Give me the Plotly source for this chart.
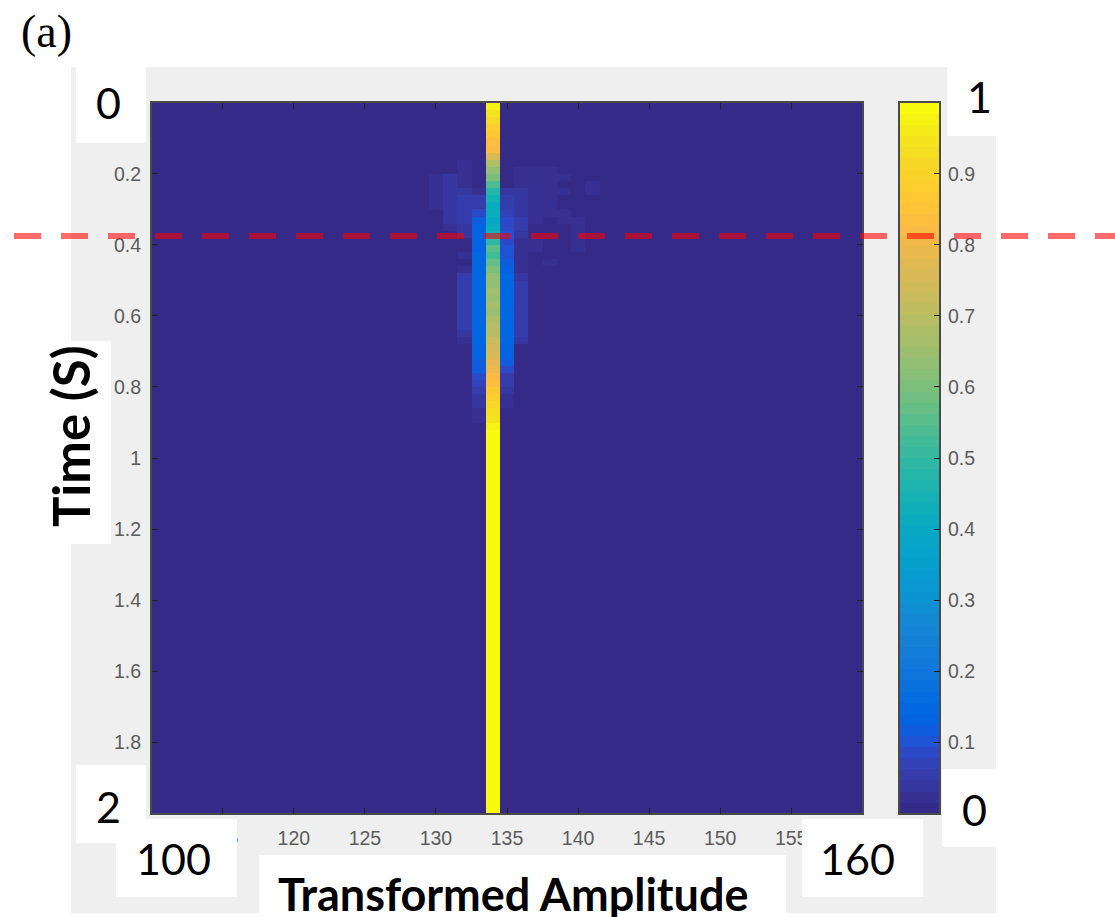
import plotly.graph_objects as go
from plotly.subplots import make_subplots

W, H = 1115, 917

amplitude = list(range(110, 161))
time_rows = [round(0.01 + 0.02 * i, 2) for i in range(100)]

col_130 = [0]*10 + [.02, .02, .016, .016, .016]
col_131 = [0]*10 + [.035, .035, .035, .04, .035, .035, .035, .025]
col_132 = [0]*8 + [.025, .025, .02, .03, .045, .055, .055, .055, .055, .045, .035, 0, 0, .016, 0, .016,
                   .05, .05, .05, .05, .05, .05, .05, .05, .045, .03]
col_133 = [0]*12 + [.03, .05, .06, .08, .12, .13, .13, .14, .14, .15, .15, .15, .15, .15, .15, .15,
                    .15, .15, .15, .15, .15, .15, .14, .13, .12, .11, .09, .07, .05, .04, .04, .03, .03]
col_134 = [.98, .95, .92, .89, .86, .84, .82, .76, .68, .64, .60, .54, .48, .44, .42, .41, .40, .42,
           .45, .49, .55, .52, .57, .60, .64, .64, .66, .65, .67, .65, .68, .69, .70, .72, .74, .75,
           .77, .79, .82, .84, .87, .89, .91, .93, .95, .97]
col_135 = [0]*12 + [.04, .05, .06, .07, .08, .09, .10, .09, .10, .10, .12, .13, .15, .15, .15, .15,
                    .15, .15, .15, .15, .15, .15, .14, .13, .11, .09, .06, .05, .04, .03, .02]
col_136 = [0]*9 + [.02, .02, .025, .035, .035, .04, .045, .05, .05, .045, .025, .025, .025, .025, .02,
                   .045, .05, .05, .05, .05, .05, .05, .05, .05, .045]
col_137 = [0]*9 + [.016, .025, .025, .03, .03, .025, .02, .016, 0, 0, .016, .016]
col_138 = [0]*9 + [.016, .016, .025, .025, .025, .025, .016, 0, 0, 0, 0, 0, 0, .016]
col_139 = [0]*10 + [.016, 0, .016, 0, 0, .02, .016]
col_140 = [0]*16 + [.02, .025, .02, .016, .016]
col_141 = [0]*11 + [.02, .025]
activity = {130: col_130, 131: col_131, 132: col_132, 133: col_133, 134: col_134, 135: col_135,
            136: col_136, 137: col_137, 138: col_138, 139: col_139, 140: col_140, 141: col_141}

x_ticks = [115, 120, 125, 130, 135, 140, 145, 150, 155]
y_ticks = [0.2, 0.4, 0.6, 0.8, 1, 1.2, 1.4, 1.6, 1.8]
bar_ticks = [0.1, 0.2, 0.3, 0.4, 0.5, 0.6, 0.7, 0.8, 0.9]
threshold_time = 0.375

parula = [
 (.2081,.1663,.5292),(.2116,.1898,.5777),(.2123,.2138,.6270),(.2081,.2386,.6771),(.1959,.2645,.7279),
 (.1707,.2919,.7792),(.1253,.3242,.8303),(.0591,.3598,.8683),(.0117,.3875,.8820),(.0060,.4086,.8828),
 (.0165,.4266,.8786),(.0329,.4430,.8720),(.0498,.4586,.8641),(.0629,.4737,.8554),(.0723,.4887,.8467),
 (.0779,.5040,.8384),(.0793,.5200,.8312),(.0749,.5375,.8263),(.0641,.5570,.8240),(.0488,.5772,.8228),
 (.0343,.5966,.8199),(.0265,.6137,.8135),(.0239,.6287,.8038),(.0231,.6418,.7913),(.0228,.6535,.7768),
 (.0267,.6642,.7607),(.0384,.6743,.7436),(.0590,.6838,.7254),(.0843,.6928,.7062),(.1133,.7015,.6859),
 (.1453,.7098,.6646),(.1801,.7177,.6424),(.2178,.7250,.6193),(.2586,.7317,.5954),(.3022,.7376,.5712),
 (.3482,.7424,.5473),(.3953,.7459,.5244),(.4420,.7481,.5033),(.4871,.7491,.4840),(.5300,.7491,.4661),
 (.5709,.7485,.4494),(.6099,.7473,.4337),(.6473,.7456,.4188),(.6834,.7435,.4044),(.7184,.7411,.3905),
 (.7525,.7384,.3768),(.7858,.7356,.3633),(.8185,.7327,.3498),(.8507,.7299,.3360),(.8824,.7274,.3217),
 (.9139,.7258,.3063),(.9450,.7261,.2886),(.9739,.7314,.2666),(.9938,.7455,.2403),(.9990,.7653,.2164),
 (.9955,.7861,.1967),(.9880,.8066,.1794),(.9789,.8271,.1633),(.9697,.8481,.1475),(.9626,.8705,.1309),
 (.9589,.8949,.1132),(.9598,.9218,.0948),(.9661,.9514,.0755),(.9763,.9831,.0538)]

n = len(parula)
colorscale = []
for i, c in enumerate(parula):
    rgb = "rgb(%d,%d,%d)" % tuple(round(v * 255) for v in c)
    colorscale += [[i / n, rgb], [(i + 1) / n, rgb]]


def cell(col, row):
    if col not in activity:
        return 0
    values = activity[col]
    if row < len(values):
        return values[row]
    return 1 if col == 134 else 0


z = [[cell(a, r) for a in amplitude] for r in range(len(time_rows))]
bar_levels = [(i + 0.5) / n for i in range(n)]

fig = make_subplots(rows=1, cols=2)
fig.add_trace(go.Heatmap(x=amplitude, y=time_rows, z=z, colorscale=colorscale, zmin=0, zmax=1,
                         showscale=False, hoverinfo="skip"), row=1, col=1)
fig.add_trace(go.Heatmap(x=[0], y=bar_levels, z=[[v] for v in bar_levels], colorscale=colorscale,
                         zmin=0, zmax=1, showscale=False, hoverinfo="skip"), row=1, col=2)

TICK_FONT = dict(family="Liberation Sans", size=19.5, color="#5c5c5c")
AX = dict(showgrid=False, zeroline=False, showline=True, linecolor="#4a4a4a", linewidth=1.5, automargin=False,
          ticks="inside", ticklen=6, tickcolor="#222222", tickwidth=1.2, tickfont=TICK_FONT)

fig.update_layout(
    width=W, height=H, margin=dict(l=0, r=0, t=0, b=0), autosize=False,
    paper_bgcolor="white", plot_bgcolor="white", showlegend=False,
    xaxis=dict(domain=[151.75 / W, 862.25 / W], range=[110, 160], tickmode="array", tickvals=x_ticks,
               mirror="allticks", ticklabelstandoff=7, **AX),
    yaxis=dict(domain=[1 - 813.25 / H, 1 - 102.75 / H], range=[2, 0], tickmode="array", tickvals=y_ticks,
               mirror="allticks", ticklabelstandoff=5, **AX),
    xaxis2=dict(domain=[899.75 / W, 939.25 / W], range=[-0.5, 0.5], showticklabels=False, showgrid=False,
                automargin=False, zeroline=False, showline=True, linecolor="#4a4a4a", linewidth=1.5, mirror=True,
                ticks=""),
    yaxis2=dict(domain=[1 - 813.25 / H, 1 - 102.75 / H], range=[0, 1], side="right", tickmode="array",
                tickvals=bar_ticks, ticklabelstandoff=3, mirror=True, anchor="x2", **AX),
)


def box(x0, y0, x1, y1, color, layer):
    return dict(type="rect", xref="paper", yref="paper", x0=x0 / W, x1=x1 / W, y0=1 - y1 / H, y1=1 - y0 / H,
                fillcolor=color, line_width=0, layer=layer)


PANEL = "#efefef"
shapes = [
    box(71, 67, 947, 136, PANEL, "below"),
    box(71, 136, 996, 913, PANEL, "below"),
    box(76, 67, 146, 143, "white", "above"),
    box(71, 341, 111, 544, "white", "above"),
    box(76, 765, 146, 843, "white", "above"),
    box(116, 819, 237, 897, "white", "above"),
    box(259, 855, 786, 917, "white", "above"),
    box(802, 819, 923, 897, "white", "above"),
    box(942, 769, 996, 847, "white", "above"),
    dict(type="line", xref="paper", yref="y", x0=14 / W, x1=1, y0=threshold_time, y1=threshold_time,
         line=dict(color="rgba(255,0,0,0.58)", width=6, dash="27px,20px"), layer="above"),
]
fig.update_layout(shapes=shapes)

LABEL = "Lato"


def label(text, x, y, size, bold=False, family=LABEL, angle=0):
    shown = "<b>%s</b>" % text if bold else text
    fig.add_annotation(text=shown, xref="paper", yref="paper", x=x / W, y=1 - y / H, showarrow=False,
                       xanchor="center", yanchor="middle", textangle=angle,
                       font=dict(family=family, size=size, color="black"))


label("(a)", 46, 32, 46, family="Liberation Serif")
label("0", 108, 102, 43)
label("2", 108, 806, 43)
label("100", 173, 858, 43)
label("160", 857, 858, 43)
label("1", 979, 97, 43)
label("0", 974, 809, 43)
label("Time (S)", 70, 436, 51, bold=True, angle=-90)
label("Transformed Amplitude", 513, 894, 45, bold=True)

fig.write_html("out.html", config=dict(displayModeBar=False),
               post_script="document.body.style.margin='0';document.documentElement.style.overflow='hidden';")
